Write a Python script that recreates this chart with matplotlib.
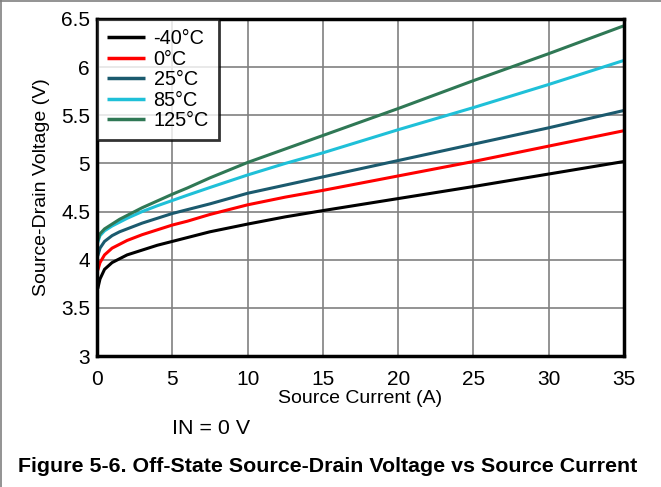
import matplotlib
matplotlib.use("Agg")
import matplotlib.pyplot as plt
from matplotlib.lines import Line2D

plt.rcParams['font.family'] = ['Liberation Sans', 'DejaVu Sans']

current = [0.05, 0.2, 0.5, 1, 1.5, 2, 3, 4, 5, 6, 7.5, 10, 12.5, 15, 20, 25, 30, 35]
v_m40 = [3.70, 3.80, 3.90, 3.97, 4.01, 4.05, 4.10, 4.15, 4.19, 4.23, 4.29, 4.37, 4.445, 4.51, 4.635, 4.76, 4.89, 5.02]
v_0 = [3.89, 3.97, 4.05, 4.12, 4.16, 4.20, 4.26, 4.31, 4.36, 4.40, 4.47, 4.57, 4.65, 4.72, 4.87, 5.02, 5.18, 5.34]
v_25 = [4.04, 4.12, 4.19, 4.25, 4.29, 4.32, 4.38, 4.43, 4.48, 4.52, 4.58, 4.69, 4.775, 4.86, 5.03, 5.20, 5.37, 5.55]
v_85 = [4.18, 4.25, 4.30, 4.35, 4.39, 4.43, 4.50, 4.56, 4.615, 4.67, 4.75, 4.88, 5.00, 5.11, 5.35, 5.58, 5.82, 6.07]
v_125 = [4.20, 4.27, 4.32, 4.37, 4.42, 4.46, 4.54, 4.61, 4.68, 4.745, 4.85, 5.01, 5.15, 5.29, 5.57, 5.86, 6.14, 6.43]
labels = ['-40°C', '0°C', '25°C', '85°C', '125°C']
colors = ['#000000', '#ff0000', '#1b5a6e', '#1fc0d8', '#2f7855']
xticks = [0, 5, 10, 15, 20, 25, 30, 35]
yticks = [3, 3.5, 4, 4.5, 5, 5.5, 6, 6.5]
yticklabels = ['3', '3.5', '4', '4.5', '5', '5.5', '6', '6.5']

fig = plt.figure(figsize=(6.61, 4.87), dpi=100)
ax = fig.add_axes([97/661, 1-356/487, (624-97)/661, (356-19)/487])

for ys, lab, c in zip([v_m40, v_0, v_25, v_85, v_125], labels, colors):
    ax.plot(current, ys, color=c, lw=2.2, label=lab, solid_capstyle='butt')

ax.set_xlim(0, 35)
ax.set_ylim(3, 6.5)
ax.set_xticks(xticks)
ax.set_yticks(yticks)
ax.set_yticklabels(yticklabels)
ax.grid(True, color='#808080', lw=1.2)
ax.set_axisbelow(True)
for s in ax.spines.values():
    s.set_linewidth(2.5)
    s.set_color('black')
ax.tick_params(length=0, labelsize=15)
ax.tick_params(axis='x', pad=10)
ax.tick_params(axis='y', pad=5)
ax.set_xlabel('Source Current (A)', fontsize=14, labelpad=1)
ax.set_ylabel('Source-Drain Voltage (V)', fontsize=14, labelpad=8)

leg = ax.legend(loc='upper left', fontsize=14.3, frameon=True, fancybox=False,
                borderaxespad=0, handlelength=1.9, handletextpad=0.45,
                labelspacing=0.08, borderpad=0.5)
leg.get_frame().set_edgecolor('black')
leg.get_frame().set_linewidth(2.0)
for h in leg.get_lines():
    h.set_linewidth(2.5)

fig.text(211/661, 1-428/487, 'IN = 0 V', fontsize=15.4, ha='center', va='center')
fig.text(328/661, 1-466/487, 'Figure 5-6. Off-State Source-Drain Voltage vs Source Current',
         fontsize=15.4, fontweight='bold', ha='center', va='center')

fig.add_artist(Line2D([0, 1], [1-1/487, 1-1/487], transform=fig.transFigure, color='#808080', lw=1.2))
fig.add_artist(Line2D([1/661, 1/661], [0, 1], transform=fig.transFigure, color='#808080', lw=1.2))

fig.savefig('out.png', dpi=100)
